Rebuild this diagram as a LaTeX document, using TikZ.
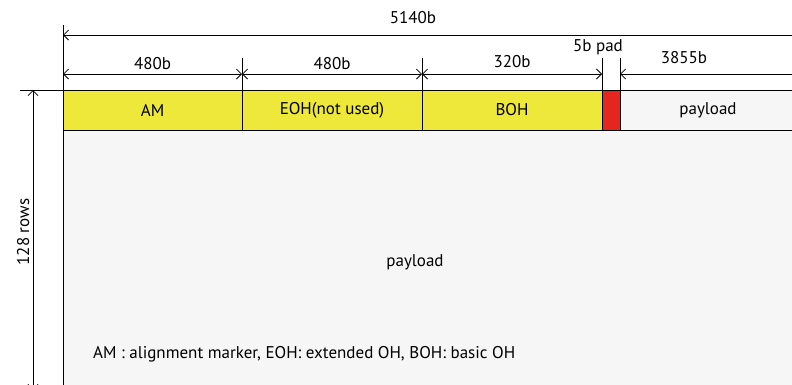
\documentclass[tikz,border=0pt]{standalone}
\usepackage{fontspec}
\setmainfont{PT Sans}
\usetikzlibrary{arrows.meta,positioning}
\definecolor{ohyellow}{RGB}{237,232,58}
\definecolor{padred}{RGB}{230,38,30}
\definecolor{plgray}{RGB}{246,246,246}
\tikzset{
	cell/.style={draw,line width=1pt,minimum height=40pt,inner sep=0pt,outer sep=0pt,anchor=north west},
	dim/.style={<->,line width=.8pt},
	ext/.style={line width=.8pt}
}
\begin{document}
\begin{tikzpicture}[x=1pt,y=-1pt,>={Straight Barb[length=5pt,width=10pt]},font=\fontsize{17}{20}\selectfont]
\useasboundingbox (0,0) rectangle (792,384);
	\fill[plgray] (63,130) rectangle (800,390);
	\node[cell,fill=ohyellow,minimum width=179pt] (am) at (63,90) {AM};
	\node[cell,fill=ohyellow,minimum width=180pt] (eoh) at (am.north east) {EOH(not used)};
	\node[cell,fill=ohyellow,minimum width=180pt] (boh) at (eoh.north east) {BOH};
	\node[cell,fill=padred,minimum width=18pt] (pad) at (boh.north east) {};
	\node[cell,fill=plgray,minimum width=176pt] (pl) at (pad.north east) {payload};
	\node (body) at (415,262) {payload};
	\node[anchor=west,inner sep=0pt] (note) at (93,354) {AM : alignment marker, EOH: extended OH, BOH: basic OH};
	% frame lines
	\draw[line width=1pt] (20,90)--(am.north west);
	\draw[ext] (63,25)--(63,390);
	\draw[ext] (am.north east)--++(0,-32) (eoh.north east)--++(0,-32)
	(boh.north east)--++(0,-32) (pad.north east)--++(0,-32);
	% dimensions
	\draw[dim] (63,35)--(830,35);
	\node (total) at (413,18) {5140b};
	\draw[dim] ([yshift=16pt]am.north west)--([yshift=16pt]am.north east)node[midway,above=1pt]{480b};
	\draw[dim] ([yshift=16pt]eoh.north west)--([yshift=16pt]eoh.north east)node[midway,above=1pt]{480b};
	\draw[dim] ([yshift=16pt]boh.north west)--([yshift=16pt]boh.north east)node[midway,above=3pt]{320b};
	\draw[dim] ([yshift=16pt]pad.north east)--++(210,0);
	\node (padlbl) at (598,47) {5b pad};
	\node (pllbl) at (684,58) {3855b};
	\draw[dim] (33,90)--(33,390)node[pos=.48,above=2pt,rotate=90]{128 rows};
\end{tikzpicture}
\end{document}
